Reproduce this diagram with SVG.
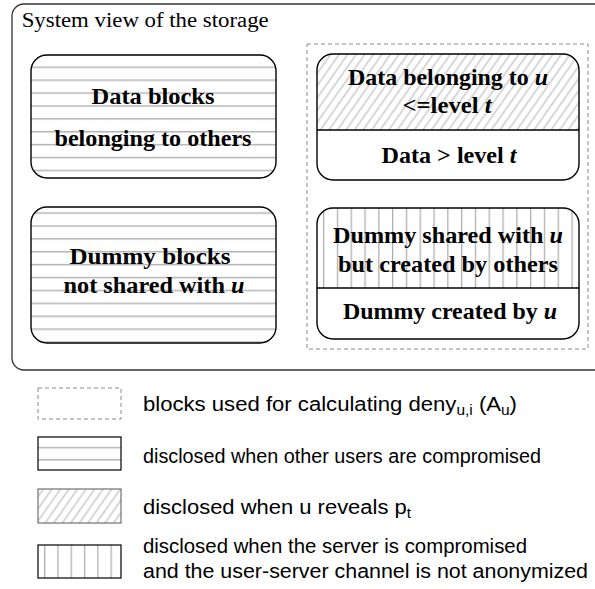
<svg xmlns="http://www.w3.org/2000/svg" width="595" height="589" viewBox="0 0 595 589">
<style>
.box{fill:none;stroke:#000;stroke-width:1.4}
.div{stroke:#000;stroke-width:1.4}
.dash{fill:none;stroke:#8a8a8a;stroke-width:1;stroke-dasharray:4 3}
.b{font-family:"Liberation Serif","Times New Roman",serif;font-weight:bold;font-size:23.5px;text-anchor:middle;fill:#000}
.i{font-style:italic}
.t{font-family:"Liberation Serif","Times New Roman",serif;font-size:20px;fill:#000}
.l{font-family:"Liberation Sans",Arial,sans-serif;font-size:20px;fill:#000}
.s{font-size:14px}
</style>
<defs>
<pattern id="h1" patternUnits="userSpaceOnUse" width="20" height="12.9" y="2">
<rect width="20" height="12.9" fill="#fff"/><line x1="0" y1="0.5" x2="20" y2="0.5" stroke="#b5b5b5" stroke-width="2"/>
</pattern>
<pattern id="h2" patternUnits="userSpaceOnUse" width="20" height="12.9" y="5.9">
<rect width="20" height="12.9" fill="#fff"/><line x1="0" y1="0.5" x2="20" y2="0.5" stroke="#b5b5b5" stroke-width="2"/>
</pattern>
<pattern id="h3" patternUnits="userSpaceOnUse" width="20" height="12.3" y="4">
<rect width="20" height="12.3" fill="#fff"/><line x1="0" y1="0.5" x2="20" y2="0.5" stroke="#b5b5b5" stroke-width="2"/>
</pattern>
<pattern id="v1" patternUnits="userSpaceOnUse" width="13.8" height="20" x="323">
<rect width="13.8" height="20" fill="#fff"/><line x1="0.5" y1="0" x2="0.5" y2="20" stroke="#b0b0b0" stroke-width="1.6"/>
</pattern>
<pattern id="v2" patternUnits="userSpaceOnUse" width="13.3" height="20" x="44">
<rect width="13.3" height="20" fill="#fff"/><line x1="0.5" y1="0" x2="0.5" y2="20" stroke="#b0b0b0" stroke-width="1.6"/>
</pattern>
<pattern id="d1" patternUnits="userSpaceOnUse" width="7" height="20" patternTransform="rotate(35)">
<rect width="7" height="20" fill="#fff"/><line x1="1" y1="0" x2="1" y2="20" stroke="#b8b8b8" stroke-width="1.1"/>
</pattern>
</defs>

<g id="frame">
<rect x="12" y="4" width="600" height="366" rx="12" fill="none" stroke="#333" stroke-width="1.3"/>
<text class="t" x="21.7" y="27" textLength="247" lengthAdjust="spacingAndGlyphs">System view of the storage</text>
</g>

<g id="calc-area">
<rect class="dash" x="307" y="44" width="281" height="305"/>
</g>

<g id="data-others">
<rect x="31" y="55" width="245" height="123" rx="16" fill="url(#h1)"/>
<rect class="box" x="31" y="55" width="245" height="123" rx="16"/>
<text class="b" x="153" y="104" textLength="123" lengthAdjust="spacingAndGlyphs">Data blocks</text>
<text class="b" x="153" y="146" textLength="197" lengthAdjust="spacingAndGlyphs">belonging to others</text>
</g>

<g id="dummy-not-shared">
<rect x="31" y="207" width="245" height="136" rx="16" fill="url(#h2)"/>
<rect class="box" x="31" y="207" width="245" height="136" rx="16"/>
<text class="b" x="150" y="264" textLength="161" lengthAdjust="spacingAndGlyphs">Dummy blocks</text>
<text class="b" x="154" y="293" textLength="181" lengthAdjust="spacingAndGlyphs">not shared with <tspan class="i">u</tspan></text>
</g>

<g id="data-u">
<path d="M317,130 V70 A16,16 0 0 1 333,54 H563 A16,16 0 0 1 579,70 V130 Z" fill="url(#d1)"/>
<rect class="box" x="317" y="54" width="262" height="126" rx="16"/>
<line class="div" x1="317" y1="130" x2="579" y2="130"/>
<text class="b" x="448" y="85" textLength="200" lengthAdjust="spacingAndGlyphs">Data belonging to <tspan class="i">u</tspan></text>
<text class="b" x="447" y="113" textLength="89" lengthAdjust="spacingAndGlyphs">&lt;=level <tspan class="i">t</tspan></text>
<text class="b" x="449" y="163" textLength="135" lengthAdjust="spacingAndGlyphs">Data &gt; level <tspan class="i">t</tspan></text>
</g>

<g id="dummy-u">
<path d="M317,288 V224 A16,16 0 0 1 333,208 H563 A16,16 0 0 1 579,224 V288 Z" fill="url(#v1)"/>
<rect class="box" x="317" y="208" width="262" height="131" rx="16"/>
<line class="div" x1="317" y1="288" x2="579" y2="288"/>
<text class="b" x="448" y="243" textLength="230" lengthAdjust="spacingAndGlyphs">Dummy shared with <tspan class="i">u</tspan></text>
<text class="b" x="448" y="272" textLength="220" lengthAdjust="spacingAndGlyphs">but created by others</text>
<text class="b" x="450" y="319" textLength="214" lengthAdjust="spacingAndGlyphs">Dummy created by <tspan class="i">u</tspan></text>
</g>

<g id="legend">
<rect class="dash" x="38" y="388" width="83" height="31"/>
<text class="l" x="143" y="411" textLength="374" lengthAdjust="spacingAndGlyphs">blocks used for calculating deny<tspan class="s" dy="4">u,i</tspan><tspan dy="-4"> (A</tspan><tspan class="s" dy="4">u</tspan><tspan dy="-4">)</tspan></text>
<rect x="38" y="437" width="83" height="33" fill="url(#h3)" stroke="#000" stroke-width="1.2"/>
<text class="l" x="143" y="463" textLength="398" lengthAdjust="spacingAndGlyphs">disclosed when other users are compromised</text>
<rect x="38" y="489" width="83" height="34" fill="url(#d1)" stroke="#555" stroke-width="1"/>
<text class="l" x="143" y="514" textLength="268" lengthAdjust="spacingAndGlyphs">disclosed when u reveals p<tspan class="s" dy="4">t</tspan></text>
<rect x="38" y="545" width="83" height="33" fill="url(#v2)" stroke="#000" stroke-width="1.2"/>
<text class="l" x="143" y="553" textLength="384" lengthAdjust="spacingAndGlyphs">disclosed when the server is compromised</text>
<text class="l" x="143" y="578" textLength="445" lengthAdjust="spacingAndGlyphs">and the user-server channel is not anonymized</text>
</g>
</svg>
